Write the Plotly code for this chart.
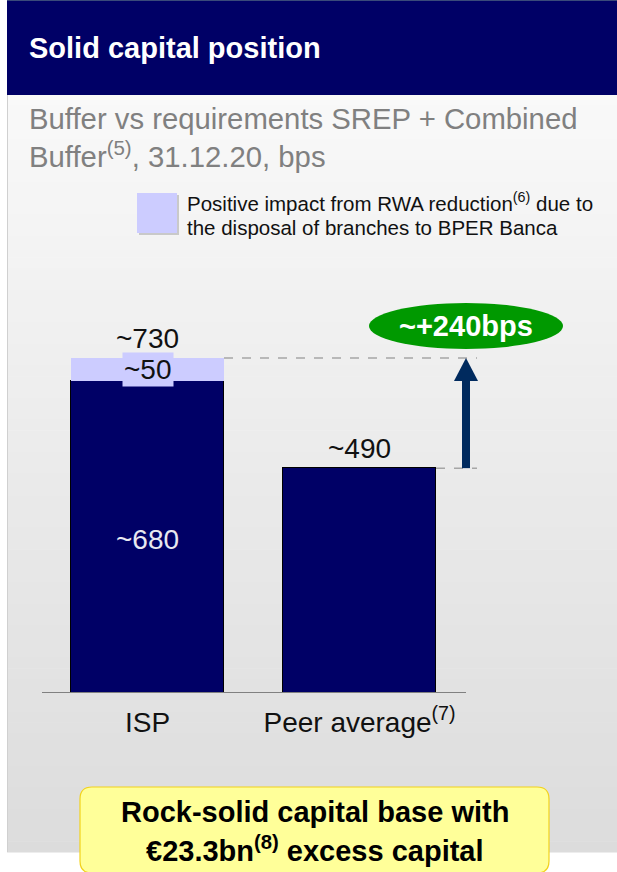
import plotly.graph_objects as go

# ---------------- data ----------------
categories = ["ISP", "Peer average<sup>(7)</sup>"]
core_buffer = [680, 490]          # bps, navy part
bper_impact = [50, 0]             # bps, RWA reduction impact (lavender)
approx_prefix = "~"

totals = [c + b for c, b in zip(core_buffer, bper_impact)]
gap = totals[0] - totals[1]

# ---------------- geometry helpers ----------------
W, H = 617, 872
FONT = "Liberation Sans, Arial, sans-serif"
NAVY = "#000066"
LAV = "#ccccff"

def X(p):
    return p / W

def Y(p):
    return 1 - p / H

# axis mapping: bar centres at px 147.5 and 359.5, baseline px 693, 0.4589 px/bps
xpx_per_unit = 212.0
x0px = 147.5
ypx_per_unit = 335.0 / 730.0
base_px = 693
top_px = 95
x_range = [(0 - x0px) / xpx_per_unit, (W - x0px) / xpx_per_unit]
y_range = [0, (base_px - top_px) / ypx_per_unit]

bar_w = 153 / xpx_per_unit
xs = list(range(len(categories)))

fig = go.Figure()
fig.add_trace(go.Bar(x=xs, y=core_buffer, width=bar_w, marker=dict(color=NAVY, line=dict(color="black", width=1)),
                     hoverinfo="skip", showlegend=False))
fig.add_trace(go.Bar(x=xs, y=bper_impact, width=bar_w, marker=dict(color=LAV, line=dict(width=0)),
                     hoverinfo="skip", showlegend=False))

shapes = []
# gradient panel background
n = 70
top, bot = 95, 852
c_top, c_bot = 249, 220
for i in range(n):
    y0 = top + (bot - top) * i / n
    y1 = top + (bot - top) * (i + 1) / n + 0.6
    c = round(c_top + (c_bot - c_top) * (i + 0.5) / n)
    shapes.append(dict(type="rect", xref="paper", yref="paper", x0=X(7), x1=X(W), y0=Y(y1), y1=Y(y0),
                       fillcolor=f"rgb({c},{c},{c})", line=dict(width=0), layer="below"))
# panel left border
shapes.append(dict(type="line", xref="paper", yref="paper", x0=X(7.5), x1=X(7.5), y0=Y(bot), y1=Y(top),
                   line=dict(color="#d0d0d0", width=1), layer="below"))
# header
shapes.append(dict(type="rect", xref="paper", yref="paper", x0=X(7), x1=X(W), y0=Y(95), y1=Y(0),
                   fillcolor=NAVY, line=dict(width=0), layer="below"))
shapes.append(dict(type="line", xref="paper", yref="paper", x0=X(7), x1=X(W), y0=Y(0.5), y1=Y(0.5),
                   line=dict(color="#3a4a7a", width=1), layer="below"))
# legend swatch with shadow
shapes.append(dict(type="rect", xref="paper", yref="paper", x0=X(139), x1=X(179), y0=Y(235), y1=Y(195),
                   fillcolor="rgba(120,120,120,0.35)", line=dict(width=0), layer="below"))
shapes.append(dict(type="rect", xref="paper", yref="paper", x0=X(137), x1=X(177), y0=Y(233), y1=Y(193),
                   fillcolor=LAV, line=dict(width=0), layer="below"))

# baseline axis
shapes.append(dict(type="line", xref="x", yref="y", x0=(42 - x0px) / xpx_per_unit, x1=(466 - x0px) / xpx_per_unit,
                   y0=0, y1=0, line=dict(color="#808080", width=2)))

# dashed reference lines and arrow
arrow_x = (466 - x0px) / xpx_per_unit
dash_end = (477 - x0px) / xpx_per_unit
shapes.append(dict(type="line", xref="x", yref="y", x0=xs[0] + bar_w / 2, x1=dash_end, y0=totals[0], y1=totals[0],
                   line=dict(color="#a6a6a6", width=1.5, dash="dash")))
shapes.append(dict(type="line", xref="x", yref="y", x0=xs[1] + bar_w / 2, x1=dash_end, y0=totals[1], y1=totals[1],
                   line=dict(color="#a6a6a6", width=1.5, dash="dash")))
ARROW = "#002a5e"
head_h = 23 / ypx_per_unit
head_w = 24 / xpx_per_unit
shaft_w = 8 / xpx_per_unit
shapes.append(dict(type="rect", xref="x", yref="y", x0=arrow_x - shaft_w / 2, x1=arrow_x + shaft_w / 2,
                   y0=totals[1], y1=totals[0] - head_h + 1, fillcolor=ARROW, line=dict(width=0)))
shapes.append(dict(type="path", xref="x", yref="y",
                   path=f"M {arrow_x - head_w / 2},{totals[0] - head_h} L {arrow_x},{totals[0]} L {arrow_x + head_w / 2},{totals[0] - head_h} Z",
                   fillcolor=ARROW, line=dict(width=0)))
# green ellipse
ell_cx = arrow_x
shapes.append(dict(type="circle", xref="x", yref="y",
                   x0=(369 - x0px) / xpx_per_unit, x1=(563 - x0px) / xpx_per_unit,
                   y0=(base_px - 349) / ypx_per_unit, y1=(base_px - 303) / ypx_per_unit,
                   fillcolor="#009900", line=dict(width=0)))

# yellow rounded box
bx0, bx1, by0, by1, r = 80, 549, 787, 873, 12
p = (f"M {X(bx0 + r)},{Y(by0)} L {X(bx1 - r)},{Y(by0)} Q {X(bx1)},{Y(by0)} {X(bx1)},{Y(by0 + r)} "
     f"L {X(bx1)},{Y(by1 - r)} Q {X(bx1)},{Y(by1)} {X(bx1 - r)},{Y(by1)} L {X(bx0 + r)},{Y(by1)} "
     f"Q {X(bx0)},{Y(by1)} {X(bx0)},{Y(by1 - r)} L {X(bx0)},{Y(by0 + r)} Q {X(bx0)},{Y(by0)} {X(bx0 + r)},{Y(by0)} Z")
shapes.append(dict(type="path", xref="paper", yref="paper", path=p, fillcolor="#ffff99",
                   line=dict(color="#f2d21c", width=1.2)))

ann = []
# title
ann.append(dict(xref="paper", yref="paper", x=X(27), y=Y(48), xanchor="left", yanchor="middle",
                text="<b>Solid capital position</b>", showarrow=False, font=dict(family=FONT, size=29, color="white")))
# subtitle
ann.append(dict(xref="paper", yref="paper", x=X(27), y=Y(118), xanchor="left", yanchor="middle",
                text="Buffer vs requirements SREP + Combined", showarrow=False,
                font=dict(family=FONT, size=29.3, color="#808080")))
ann.append(dict(xref="paper", yref="paper", x=X(27), y=Y(155), xanchor="left", yanchor="middle",
                text="Buffer<sup>(5)</sup>, 31.12.20, bps", showarrow=False,
                font=dict(family=FONT, size=29.3, color="#808080")))
# legend text
ann.append(dict(xref="paper", yref="paper", x=X(186), y=Y(202), xanchor="left", yanchor="middle",
                text="Positive impact from RWA reduction<sup>(6)</sup> due to", showarrow=False, borderpad=0,
                font=dict(family=FONT, size=20.5, color="#111111")))
ann.append(dict(xref="paper", yref="paper", x=X(186), y=Y(227), xanchor="left", yanchor="middle",
                text="the disposal of branches to BPER Banca", showarrow=False, borderpad=0,
                font=dict(family=FONT, size=20.5, color="#111111")))

# value labels
for i, t in enumerate(totals):
    ann.append(dict(x=xs[i], y=t, xref="x", yref="y", yanchor="bottom", yshift=2,
                    text=f"{approx_prefix}{t}", showarrow=False, font=dict(family=FONT, size=28, color="#111111")))
ann.append(dict(x=xs[0], y=core_buffer[0] + bper_impact[0] / 2, xref="x", yref="y", yanchor="middle",
                text=f"{approx_prefix}{bper_impact[0]}", showarrow=False, bgcolor=LAV, borderpad=1,
                font=dict(family=FONT, size=28, color="#111111")))
ann.append(dict(x=xs[0], y=core_buffer[0] / 2, xref="x", yref="y", yanchor="middle", yshift=-3,
                text=f"{approx_prefix}{core_buffer[0]}", showarrow=False,
                font=dict(family=FONT, size=28, color="#e8e8f0")))
ann.append(dict(x=ell_cx, y=(base_px - 326) / ypx_per_unit, xref="x", yref="y", yanchor="middle",
                text=f"<b>{approx_prefix}+{gap}bps</b>", showarrow=False,
                font=dict(family=FONT, size=29, color="white")))

# yellow box text
ann.append(dict(xref="paper", yref="paper", x=X(315), y=Y(812), xanchor="center", yanchor="middle",
                text="<b>Rock-solid capital base with</b>", showarrow=False,
                font=dict(family=FONT, size=29, color="black")))
ann.append(dict(xref="paper", yref="paper", x=X(315), y=Y(849), xanchor="center", yanchor="middle",
                text="<b>€23.3bn<sup>(8)</sup> excess capital</b>", showarrow=False,
                font=dict(family=FONT, size=29, color="black")))

fig.update_layout(
    width=W, height=H, margin=dict(l=0, r=0, t=0, b=0),
    paper_bgcolor="white", plot_bgcolor="rgba(0,0,0,0)",
    barmode="stack", bargap=0,
    shapes=shapes, annotations=ann, showlegend=False,
    xaxis=dict(domain=[0, 1], range=x_range, tickmode="array", tickvals=xs, ticktext=categories,
               showgrid=False, zeroline=False, showline=False, ticks="outside", ticklen=4,
               tickcolor="rgba(0,0,0,0)", tickfont=dict(family=FONT, size=28, color="#111111"), fixedrange=True),
    yaxis=dict(domain=[Y(base_px), Y(top_px)], range=y_range, showgrid=False, zeroline=False,
               showline=False, showticklabels=False, ticks="", fixedrange=True),
)

fig.write_html("out.html", config={"displayModeBar": False},
               post_script="document.body.style.margin='0px';document.body.style.overflow='hidden';")
